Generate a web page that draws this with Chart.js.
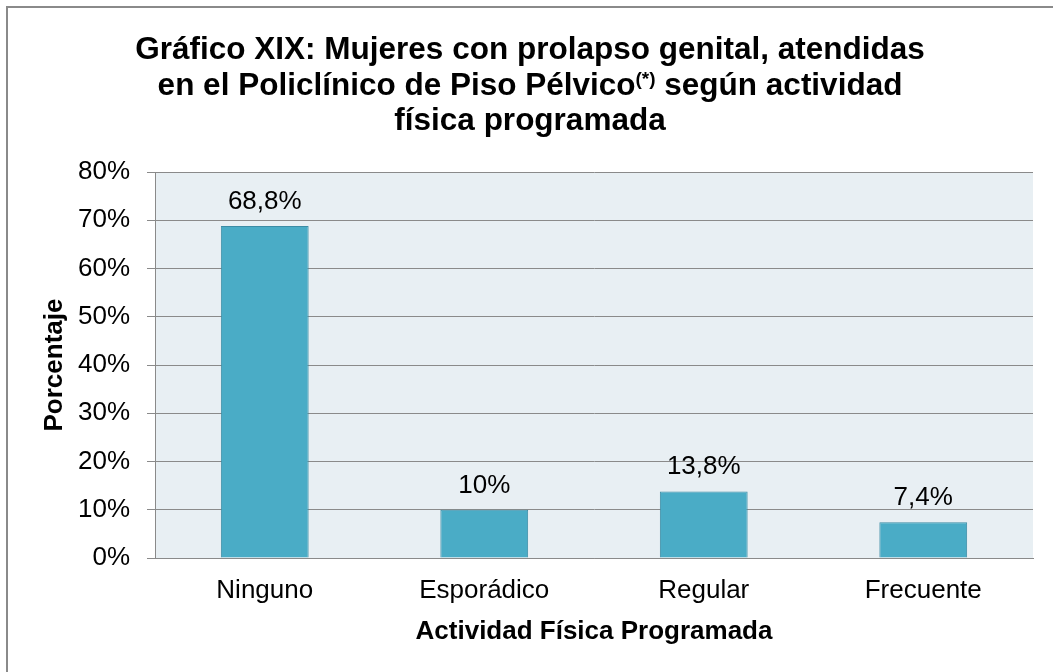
<!DOCTYPE html>
<html lang="es">
<head>
<meta charset="utf-8">
<title>Gráfico XIX</title>
<script src="https://cdn.jsdelivr.net/npm/chart.js@4.4.1/dist/chart.umd.min.js"></script>
<style>
  html, body { margin: 0; padding: 0; background: #ffffff; }
  #wrap { width: 1053px; height: 672px; position: relative; }
</style>
</head>
<body>
<div id="wrap"><canvas id="actividadChart"></canvas></div>
<script>
// Datos
const categorias = ['Ninguno', 'Esporádico', 'Regular', 'Frecuente'];
const porcentajes = [68.8, 10, 13.8, 7.4];
const tituloLineas = [
    'Gráfico XIX: Mujeres con prolapso genital, atendidas',
    ['en el Policlínico de Piso Pélvico', '(*)', ' según actividad'],
    'física programada'
];
const tituloEjeX = 'Actividad Física Programada';
const tituloEjeY = 'Porcentaje';

const FUENTE = '"Liberation Sans", Arial, sans-serif';

// formato con coma decimal: 68.8 -> "68,8%"
function fmtPct(v) {
    return String(v).replace('.', ',') + '%';
}

// Marco gris, fondo del área y título (con superíndice)
const decoracion = {
    id: 'decoracion',
    beforeDraw(chart) {
        const ctx = chart.ctx;
        const a = chart.chartArea;
        ctx.save();
        ctx.strokeStyle = '#8a8a8a';
        ctx.lineWidth = 2;
        ctx.strokeRect(7, 7, chart.width + 20, chart.height + 20);
        ctx.fillStyle = '#e8eff3';
        ctx.fillRect(a.left, a.top, a.right - a.left, a.bottom - a.top);
        ctx.restore();
    },
    afterDraw(chart) {
        const ctx = chart.ctx;
        const cx = 530;
        const base = [59, 95, 130];
        ctx.save();
        ctx.fillStyle = '#000';
        ctx.textBaseline = 'alphabetic';
        ctx.textAlign = 'left';
        tituloLineas.forEach(function(linea, i) {
            const partes = Array.isArray(linea) ? linea : [linea];
            const fuentes = partes.map(function(p, j) {
                return (Array.isArray(linea) && j === 1) ? 'bold 19px ' + FUENTE : 'bold 31.5px ' + FUENTE;
            });
            let total = 0;
            const anchos = partes.map(function(p, j) {
                ctx.font = fuentes[j];
                const w = ctx.measureText(p).width;
                total += w;
                return w;
            });
            let x = cx - total / 2;
            partes.forEach(function(p, j) {
                ctx.font = fuentes[j];
                const sup = Array.isArray(linea) && j === 1;
                ctx.fillText(p, x, base[i] - (sup ? 10 : 0));
                x += anchos[j];
            });
        });
        ctx.restore();
    }
};

// Etiquetas de valor sobre cada barra
const etiquetas = {
    id: 'etiquetas',
    afterDatasetsDraw(chart) {
        const ctx = chart.ctx;
        const meta = chart.getDatasetMeta(0);
        ctx.save();
        ctx.font = '26px ' + FUENTE;
        ctx.fillStyle = '#000';
        ctx.textAlign = 'center';
        ctx.textBaseline = 'alphabetic';
        meta.data.forEach(function(bar, i) {
            ctx.fillText(fmtPct(porcentajes[i]), bar.x, bar.y - 17);
        });
        ctx.restore();
    }
};

const ctx = document.getElementById('actividadChart');
new Chart(ctx, {
    type: 'bar',
    data: {
        labels: categorias,
        datasets: [{
            label: tituloEjeY,
            data: porcentajes,
            backgroundColor: '#4aacc6',
            borderColor: '#3b8ca5',
            borderWidth: 1,
            categoryPercentage: 1,
            barPercentage: 0.4
        }]
    },
    options: {
        responsive: true,
        maintainAspectRatio: false,
        animation: false,
        layout: { padding: { top: 172, right: 20, left: 0, bottom: 0 } },
        plugins: {
            legend: { display: false },
            tooltip: { enabled: false },
            title: { display: false }
        },
        scales: {
            x: {
                grid: { display: false, drawTicks: false, tickLength: 0 },
                border: { display: true, color: '#8a8a8a', width: 1 },
                ticks: {
                    color: '#000',
                    padding: 17,
                    font: { family: FUENTE, size: 26 }
                },
                title: {
                    display: true,
                    text: tituloEjeX,
                    color: '#000',
                    font: { family: FUENTE, size: 26, weight: 'bold' },
                    padding: { top: 0, bottom: 25 }
                },
                afterFit: function(scale) { scale.height = 114; }
            },
            y: {
                min: 0,
                max: 80,
                ticks: {
                    stepSize: 10,
                    color: '#000',
                    padding: 17,
                    font: { family: FUENTE, size: 26 },
                    callback: function(v) { return v + '%'; }
                },
                grid: { color: '#8a8a8a', tickLength: 8, drawTicks: true },
                border: { display: true, color: '#8a8a8a', width: 1 },
                title: {
                    display: true,
                    text: tituloEjeY,
                    color: '#000',
                    font: { family: FUENTE, size: 26, weight: 'bold' },
                    padding: { top: 39, bottom: 0 }
                },
                afterFit: function(scale) { scale.width = 155; }
            }
        }
    },
    plugins: [decoracion, etiquetas]
});
</script>
</body>
</html>
